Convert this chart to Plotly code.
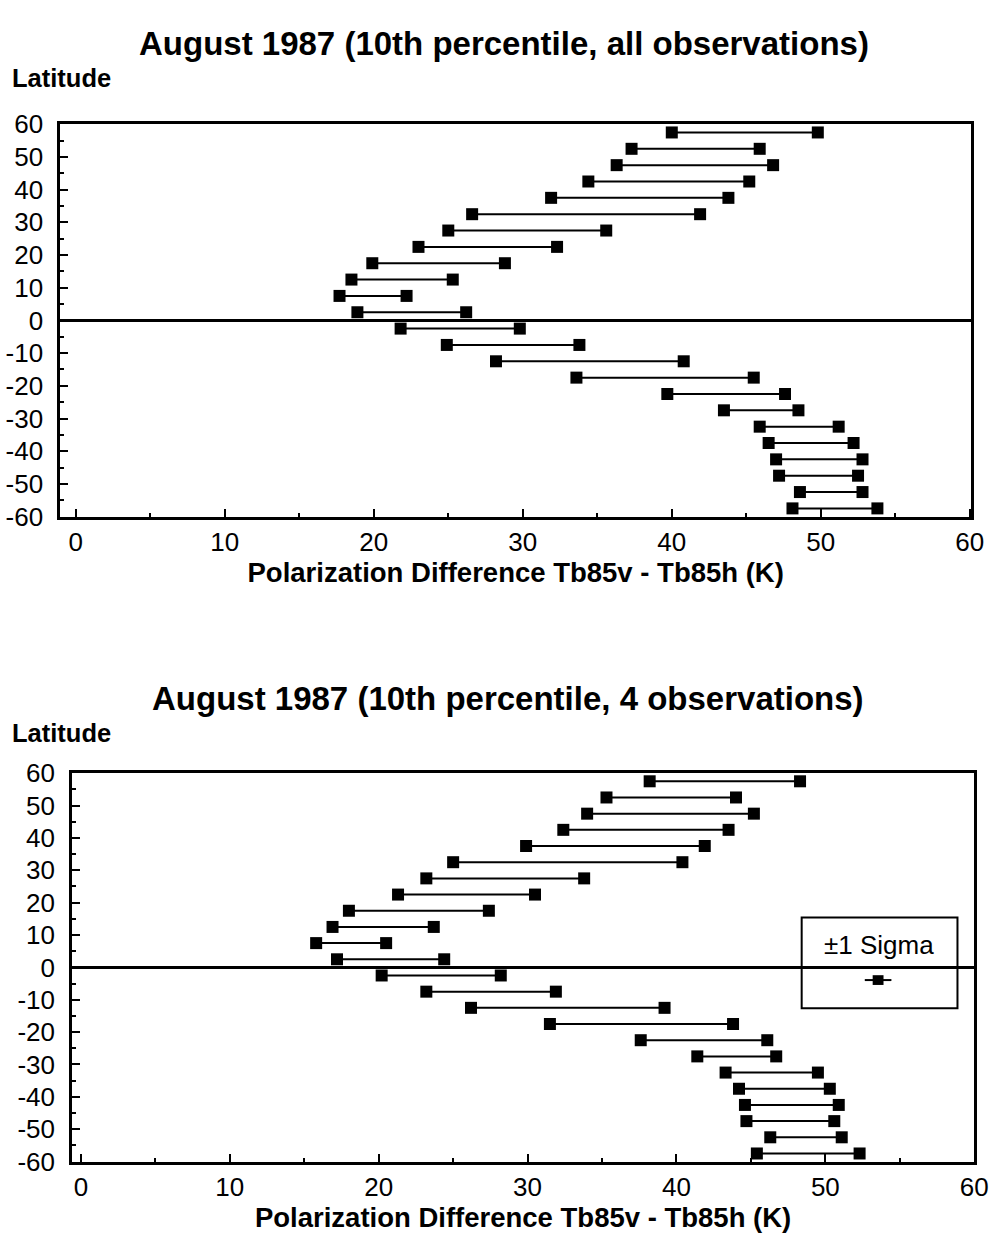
import plotly.graph_objects as go

# ---------------- data ----------------
lat_centers = [57.5, 52.5, 47.5, 42.5, 37.5, 32.5, 27.5, 22.5, 17.5, 12.5, 7.5, 2.5,
               -2.5, -7.5, -12.5, -17.5, -22.5, -27.5, -32.5, -37.5, -42.5, -47.5, -52.5, -57.5]

# Panel 1: all observations (low / high end of +-1 sigma range)
top_low = [40.0, 37.3, 36.3, 34.4, 31.9, 26.6, 25.0, 23.0, 19.9, 18.5, 17.7, 18.9,
           21.8, 24.9, 28.2, 33.6, 39.7, 43.5, 45.9, 46.5, 47.0, 47.2, 48.6, 48.1]
top_high = [49.8, 45.9, 46.8, 45.2, 43.8, 41.9, 35.6, 32.3, 28.8, 25.3, 22.2, 26.2,
            29.8, 33.8, 40.8, 45.5, 47.6, 48.5, 51.2, 52.2, 52.8, 52.5, 52.8, 53.8]

# Panel 2: 4 observations
bot_low = [38.2, 35.3, 34.0, 32.4, 29.9, 25.0, 23.2, 21.3, 18.0, 16.9, 15.8, 17.2,
           20.2, 23.2, 26.2, 31.5, 37.6, 41.4, 43.3, 44.2, 44.6, 44.7, 46.3, 45.4]
bot_high = [48.3, 44.0, 45.2, 43.5, 41.9, 40.4, 33.8, 30.5, 27.4, 23.7, 20.5, 24.4,
            28.2, 31.9, 39.2, 43.8, 46.1, 46.7, 49.5, 50.3, 50.9, 50.6, 51.1, 52.3]

y_tickvals = [60, 50, 40, 30, 20, 10, 0, -10, -20, -30, -40, -50, -60]
y_ticktext = ["60", "50", "40", "30", "20", "10", "0", "-10", "-20", "-30", "-40", "-50", "-60"]
y_minor = [55, 45, 35, 25, 15, 5, -5, -15, -25, -35, -45, -55]
x_tickvals = [0, 10, 20, 30, 40, 50, 60]
x_ticktext = ["0", "10", "20", "30", "40", "50", "60"]
x_minor = [5, 15, 25, 35, 45, 55]

titles = ["August 1987 (10th percentile, all observations)",
          "August 1987 (10th percentile, 4 observations)"]
x_title = "Polarization Difference Tb85v - Tb85h (K)"
y_title = "Latitude"
legend_label = "±1 Sigma"

# ---------------- helpers ----------------
W, H = 1005, 1240
FONT = "Liberation Sans, Arial, sans-serif"


def px_x(p):
    return p / W


def px_y(p):
    return 1 - p / H


def seg(lows, highs, lats):
    xs, ys = [], []
    for lo, hi, la in zip(lows, highs, lats):
        xs += [lo, hi, None]
        ys += [la, la, None]
    return xs, ys


fig = go.Figure()
for i, (lo, hi) in enumerate([(top_low, top_high), (bot_low, bot_high)]):
    xs, ys = seg(lo, hi, lat_centers)
    fig.add_trace(go.Scatter(
        x=xs, y=ys, mode="lines+markers",
        xaxis="x" if i == 0 else "x2", yaxis="y" if i == 0 else "y2",
        line=dict(color="black", width=2),
        marker=dict(symbol="square", size=12, color="black"),
        showlegend=False, cliponaxis=False, hoverinfo="x+y"))

panels = [
    dict(x0=61, x1=985, y0=112, y1=514, xr=[-1.05, 60.1]),
    dict(x0=73, x1=988, y0=777, y1=1175, xr=[-0.6, 60.0]),
]

tick_font = dict(family=FONT, size=26, color="black")
for i, p in enumerate(panels):
    sx = "" if i == 0 else "2"
    fig.update_layout(**{
        "xaxis" + sx: dict(
            domain=[px_x(p["x0"]), px_x(p["x1"])], range=p["xr"], anchor="y" + sx,
            tickmode="array", tickvals=x_tickvals, ticktext=x_ticktext,
            ticks="inside", ticklen=8, tickwidth=1.5, tickcolor="black",
            minor=dict(tickmode="array", tickvals=x_minor, ticks="inside", ticklen=4,
                       tickwidth=1.5, tickcolor="black"),
            showline=True, mirror=True, linecolor="black", linewidth=2.5,
            showgrid=False, zeroline=False, tickfont=tick_font,
            title=dict(text=x_title, font=dict(family=FONT, size=27.5, color="black", weight="bold"),
                       standoff=2),
        ),
        "yaxis" + sx: dict(
            domain=[px_y(p["y1"]), px_y(p["y0"])], range=[-60, 60], anchor="x" + sx,
            tickmode="array", tickvals=y_tickvals, ticktext=y_ticktext,
            ticks="inside", ticklen=8, tickwidth=1.5, tickcolor="black",
            minor=dict(tickmode="array", tickvals=y_minor, ticks="inside", ticklen=4,
                       tickwidth=1.5, tickcolor="black"),
            showline=True, mirror=True, linecolor="black", linewidth=2.5,
            showgrid=False, zeroline=True, zerolinecolor="black", zerolinewidth=2.5,
            tickfont=tick_font, ticklabelstandoff=9,
        ),
    })

annotations = []
title_pos = [(511, 29), (515, 700)]
lat_pos = [65, 736]
for (tx, ty), t in zip(title_pos, titles):
    annotations.append(dict(x=px_x(tx), y=px_y(ty), xref="paper", yref="paper",
                            text=t, showarrow=False, xanchor="center", yanchor="middle",
                            font=dict(family=FONT, size=33, color="black", weight="bold")))
for ly in lat_pos:
    annotations.append(dict(x=px_x(10), y=px_y(ly), xref="paper", yref="paper",
                            text=y_title, showarrow=False, xanchor="left", yanchor="middle",
                            font=dict(family=FONT, size=25.5, color="black", weight="bold")))
# legend box contents
annotations.append(dict(x=px_x(891), y=px_y(953), xref="paper", yref="paper",
                        text=legend_label, showarrow=False, xanchor="center", yanchor="middle",
                        font=dict(family=FONT, size=26, color="black")))

shapes = [
    dict(type="rect", xref="paper", yref="paper", x0=px_x(813), x1=px_x(971),
         y0=px_y(1018), y1=px_y(925), line=dict(color="black", width=2), fillcolor="rgba(0,0,0,0)"),
    dict(type="line", xref="paper", yref="paper", x0=px_x(877), x1=px_x(904),
         y0=px_y(989), y1=px_y(989), line=dict(color="black", width=2)),
    dict(type="rect", xref="paper", yref="paper", x0=px_x(885), x1=px_x(896),
         y0=px_y(994), y1=px_y(984), line=dict(color="black", width=0), fillcolor="black"),
]

fig.update_layout(
    width=W, height=H, margin=dict(l=0, r=0, t=0, b=0),
    paper_bgcolor="white", plot_bgcolor="white",
    annotations=annotations, shapes=shapes, showlegend=False,
    font=dict(family=FONT, color="black"),
)

fig.write_html("out.html", config={"displayModeBar": False},
               post_script="document.body.style.margin='0';document.body.style.overflow='hidden';")
